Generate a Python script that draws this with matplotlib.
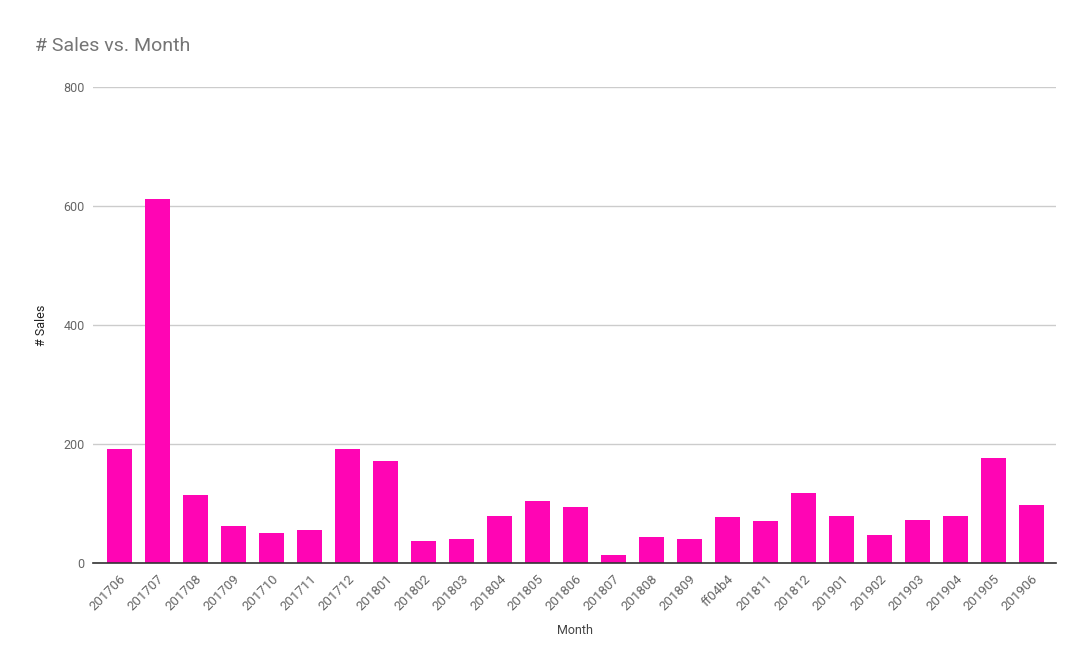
import matplotlib
matplotlib.use("Agg")
import matplotlib.pyplot as plt
import matplotlib.transforms as mtransforms

months = ["201706", "201707", "201708", "201709", "201710", "201711", "201712",
          "201801", "201802", "201803", "201804", "201805", "201806", "201807",
          "201808", "201809", "ff04b4", "201811", "201812", "201901", "201902",
          "201903", "201904", "201905", "201906"]
sales = [192, 612, 115, 63, 51, 56, 192, 172, 37, 40, 79, 104, 94, 13,
         44, 40, 77, 71, 118, 79, 47, 72, 79, 176, 97]
yticks = [0, 200, 400, 600, 800]

plt.rcParams['font.family'] = ['Roboto', 'DejaVu Sans']

fig = plt.figure(figsize=(10.9, 6.71), dpi=100)
ax = fig.add_axes([93/1090, 108/671, (1056-93)/1090, (563-87)/671])

x = list(range(len(months)))
ax.bar(x, sales, width=0.66, color="#ff05b4", zorder=3)
ax.set_xlim(-0.697, len(months) - 1 + 0.645)
ax.set_ylim(0, 800)
ax.set_yticks(yticks)
ax.set_yticklabels([str(v) for v in yticks], fontsize=9, color="#666666")
ax.set_xticks(x)
ax.set_xticklabels(months, rotation=45, ha="right", rotation_mode="anchor",
                   fontsize=9.5, color="#666666")
offset = mtransforms.ScaledTranslation(4/100, 0, fig.dpi_scale_trans)
for lbl in ax.get_xticklabels():
    lbl.set_transform(lbl.get_transform() + offset)
ax.tick_params(axis="both", length=0)
ax.tick_params(axis="y", pad=6)
ax.tick_params(axis="x", pad=7)
ax.grid(axis="y", color="#cccccc", linewidth=1, zorder=0)
for s in ["top", "right", "left"]:
    ax.spines[s].set_visible(False)
ax.spines["bottom"].set_color("#333333")
ax.spines["bottom"].set_linewidth(1.2)
ax.spines["bottom"].set_zorder(4)

ax.set_xlabel("Month", fontsize=9, color="#444444")
ax.set_ylabel("# Sales", fontsize=9, color="#222222")
ax.xaxis.set_label_coords((575-93)/963, (563-624)/476)
ax.yaxis.set_label_coords((48-93)/963, (563-325)/476)

fig.text(35/1090, 1 - 46/671, "# Sales vs. Month", fontsize=14, color="#757575",
         ha="left", va="center")

fig.savefig("out.png", dpi=100, facecolor="white")
